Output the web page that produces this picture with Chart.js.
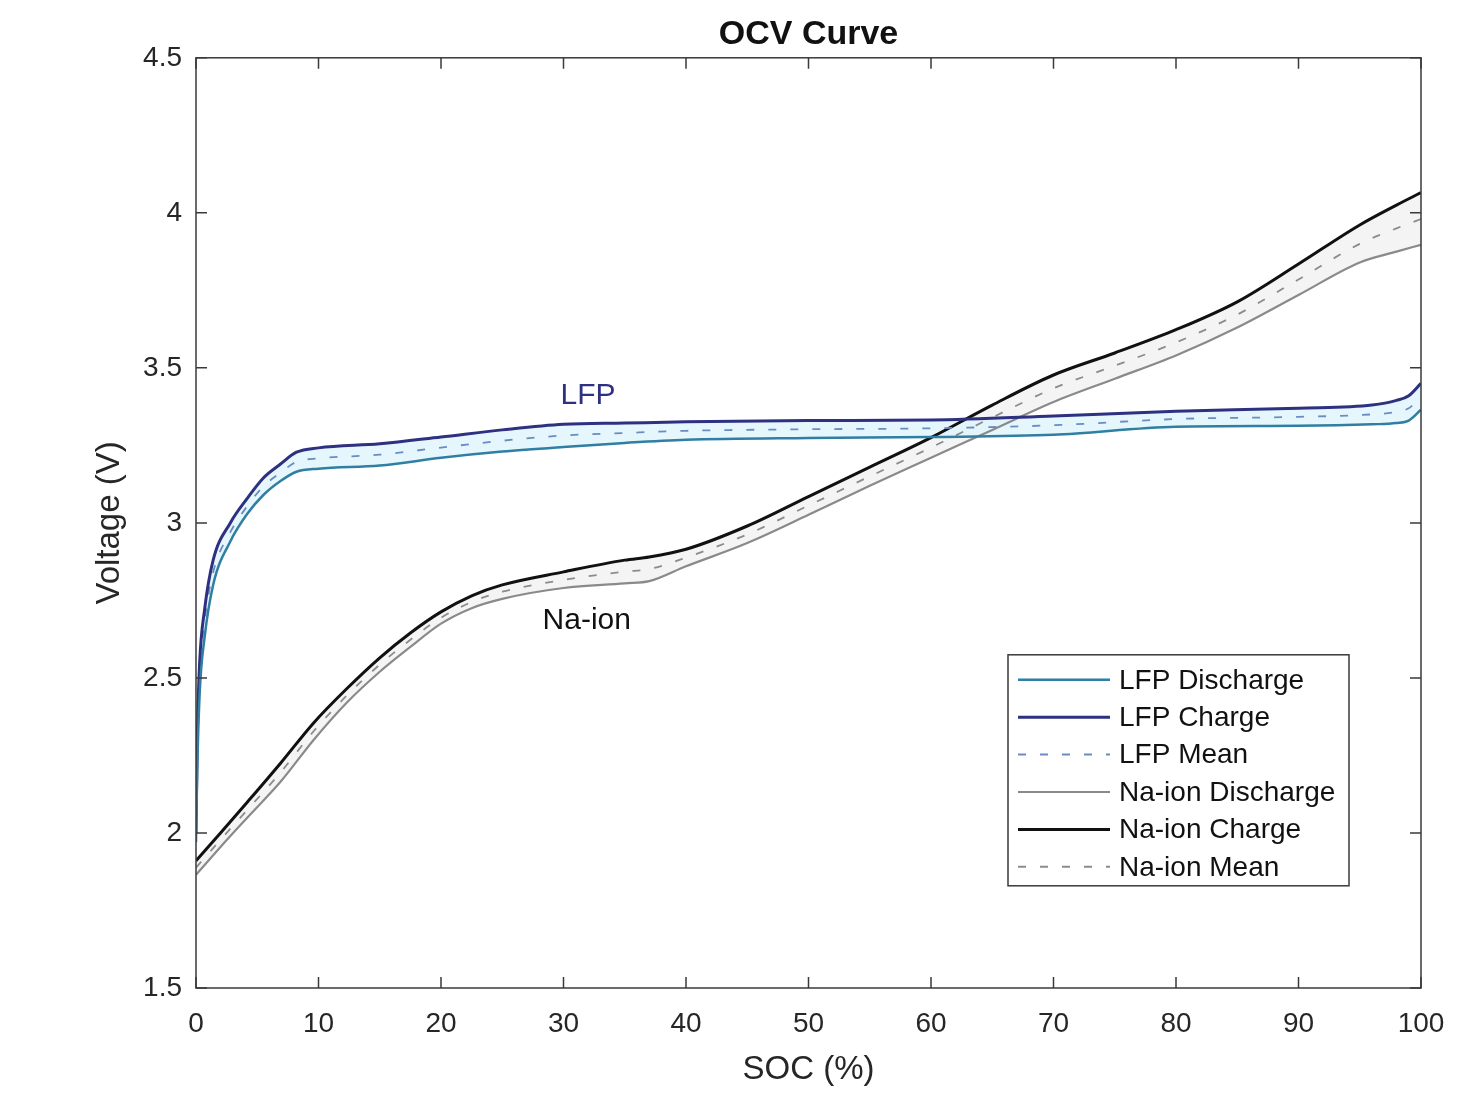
<!DOCTYPE html>
<html lang="en">
<head>
  <meta charset="UTF-8">
  <title>OCV Curve</title>
  <style>
    body {
      margin: 0;
      padding: 0;
      background: #fff;
    }
    canvas {
      display: block;
    }
  </style>
</head>
<body>
  <canvas id="ocvChart" width="1478" height="1094"></canvas>

  <script src="https://cdn.jsdelivr.net/npm/chart.js"></script>
  <script>
    // SOC sample points (%)
    const lfpSoc = [0, 0.1, 0.3, 0.7, 1.4, 2.8, 4.2, 5.5, 6.9, 8.2, 10, 15, 20, 25, 30, 35, 40, 50, 60, 70, 80, 90, 96, 98, 99, 100];
    const naSoc = [0, 2, 4.2, 6.9, 9.6, 12.3, 15, 17.5, 20, 22.5, 25, 30, 35, 37, 40, 45, 50, 55, 60, 65, 70, 75, 80, 85, 90, 95, 98, 100];

    // Voltages (V)
    const lfpDischarge = [1.97, 2.2, 2.45, 2.63, 2.8, 2.94, 3.03, 3.09, 3.135, 3.165, 3.175, 3.185, 3.21, 3.23, 3.245, 3.258, 3.268, 3.274, 3.277, 3.284, 3.31, 3.313, 3.318, 3.322, 3.33, 3.365];
    const lfpCharge = [2.0, 2.3, 2.55, 2.72, 2.88, 3.0, 3.08, 3.145, 3.19, 3.228, 3.242, 3.255, 3.277, 3.3, 3.318, 3.322, 3.326, 3.33, 3.332, 3.345, 3.36, 3.37, 3.38, 3.395, 3.41, 3.45];
    const lfpMean = [1.99, 2.25, 2.5, 2.68, 2.84, 2.97, 3.055, 3.118, 3.162, 3.197, 3.208, 3.22, 3.243, 3.265, 3.282, 3.29, 3.297, 3.302, 3.305, 3.315, 3.335, 3.342, 3.35, 3.358, 3.37, 3.405];

    const naDischarge = [1.865, 1.955, 2.05, 2.165, 2.3, 2.42, 2.52, 2.6, 2.675, 2.725, 2.755, 2.79, 2.805, 2.812, 2.86, 2.935, 3.026, 3.12, 3.21, 3.3, 3.39, 3.465, 3.54, 3.63, 3.735, 3.84, 3.875, 3.897];
    const naCharge = [1.91, 2.0, 2.1, 2.225, 2.355, 2.465, 2.565, 2.645, 2.713, 2.765, 2.8, 2.842, 2.88, 2.89, 2.915, 2.99, 3.085, 3.18, 3.275, 3.38, 3.477, 3.548, 3.623, 3.713, 3.835, 3.961, 4.025, 4.065];
    const naMean = [1.888, 1.978, 2.075, 2.195, 2.328, 2.443, 2.543, 2.623, 2.694, 2.745, 2.778, 2.816, 2.843, 2.851, 2.888, 2.963, 3.056, 3.15, 3.243, 3.34, 3.434, 3.507, 3.582, 3.672, 3.785, 3.9, 3.95, 3.98];

    const xTicks = [0, 10, 20, 30, 40, 50, 60, 70, 80, 90, 100];
    const yTicks = [1.5, 2, 2.5, 3, 3.5, 4, 4.5];

    const FONT = '"Liberation Sans", Arial, sans-serif';

    const toPoints = (xs, ys) => xs.map((x, i) => ({ x: x, y: ys[i] }));

    // Box around the plot with inward tick marks on all four sides
    const frame = {
      id: 'frame',
      afterDraw(chart) {
        const { ctx, chartArea: a, scales } = chart;
        ctx.save();
        ctx.strokeStyle = '#3a3a3a';
        ctx.lineWidth = 1.5;
        ctx.strokeRect(a.left, a.top, a.right - a.left, a.bottom - a.top);
        const len = 11;
        ctx.beginPath();
        xTicks.forEach(v => {
          const px = scales.x.getPixelForValue(v);
          ctx.moveTo(px, a.bottom); ctx.lineTo(px, a.bottom - len);
          ctx.moveTo(px, a.top); ctx.lineTo(px, a.top + len);
        });
        yTicks.forEach(v => {
          const py = scales.y.getPixelForValue(v);
          ctx.moveTo(a.left, py); ctx.lineTo(a.left + len, py);
          ctx.moveTo(a.right, py); ctx.lineTo(a.right - len, py);
        });
        ctx.stroke();
        ctx.restore();
      }
    };

    // Text labels next to the curves
    const curveLabels = {
      id: 'curveLabels',
      afterDatasetsDraw(chart) {
        const { ctx, scales } = chart;
        ctx.save();
        ctx.font = '30px ' + FONT;
        ctx.textAlign = 'center';
        ctx.textBaseline = 'middle';
        ctx.fillStyle = '#2e3080';
        ctx.fillText('LFP', scales.x.getPixelForValue(32), scales.y.getPixelForValue(3.41));
        ctx.fillStyle = '#111';
        ctx.fillText('Na-ion', scales.x.getPixelForValue(31.9), scales.y.getPixelForValue(2.684));
        ctx.restore();
      }
    };

    // MATLAB-style legend box inside the plot
    const boxLegend = {
      id: 'boxLegend',
      afterDraw(chart) {
        const { ctx, chartArea: a } = chart;
        const left = a.right - 413, top = a.top + 597;
        const w = 341, h = 231, rowH = 37.4;
        ctx.save();
        ctx.fillStyle = '#fff';
        ctx.fillRect(left, top, w, h);
        ctx.strokeStyle = '#3a3a3a';
        ctx.lineWidth = 1.5;
        ctx.strokeRect(left, top, w, h);
        ctx.font = '28px ' + FONT;
        ctx.textBaseline = 'middle';
        chart.data.datasets.forEach((ds, i) => {
          const y = top + 25 + i * rowH;
          ctx.beginPath();
          ctx.strokeStyle = ds.borderColor;
          ctx.lineWidth = Math.max(ds.borderWidth, 2);
          ctx.setLineDash(ds.borderDash || []);
          ctx.moveTo(left + 10, y);
          ctx.lineTo(left + 102, y);
          ctx.stroke();
          ctx.setLineDash([]);
          ctx.fillStyle = '#111';
          ctx.fillText(ds.label, left + 111, y + 1);
        });
        ctx.restore();
      }
    };

    const ctx = document.getElementById('ocvChart').getContext('2d');
    new Chart(ctx, {
      type: 'line',
      data: {
        datasets: [
          {
            label: 'LFP Discharge',
            data: toPoints(lfpSoc, lfpDischarge),
            borderColor: '#2f7fa3',
            borderWidth: 2.5
          },
          {
            label: 'LFP Charge',
            data: toPoints(lfpSoc, lfpCharge),
            borderColor: '#2e3080',
            borderWidth: 3,
            fill: { target: 0 },
            backgroundColor: 'rgba(226, 246, 252, 0.9)'
          },
          {
            label: 'LFP Mean',
            data: toPoints(lfpSoc, lfpMean),
            borderColor: '#6a8cc0',
            borderWidth: 1.8,
            borderDash: [8, 14]
          },
          {
            label: 'Na-ion Discharge',
            data: toPoints(naSoc, naDischarge),
            borderColor: '#8a8a8a',
            borderWidth: 2.2
          },
          {
            label: 'Na-ion Charge',
            data: toPoints(naSoc, naCharge),
            borderColor: '#111111',
            borderWidth: 3,
            fill: { target: 3 },
            backgroundColor: 'rgba(242, 242, 242, 0.85)'
          },
          {
            label: 'Na-ion Mean',
            data: toPoints(naSoc, naMean),
            borderColor: '#8c8c8c',
            borderWidth: 1.8,
            borderDash: [8, 14]
          }
        ]
      },
      options: {
        responsive: false,
        animation: false,
        layout: { padding: { left: 0, right: 57, top: 0, bottom: 0 } },
        elements: {
          point: { radius: 0 },
          line: { cubicInterpolationMode: 'monotone', fill: false }
        },
        plugins: {
          legend: { display: false },
          tooltip: { enabled: false },
          filler: { drawTime: 'beforeDatasetsDraw' },
          title: {
            display: true,
            fullSize: false,
            text: 'OCV Curve',
            color: '#111',
            font: { family: FONT, size: 34, weight: 'bold' },
            padding: { top: 14, bottom: 3 }
          }
        },
        scales: {
          x: {
            type: 'linear',
            min: 0,
            max: 100,
            grid: { display: false },
            border: { display: false },
            ticks: {
              stepSize: 10,
              padding: 11,
              color: '#262626',
              font: { family: FONT, size: 28 }
            },
            title: {
              display: true,
              text: 'SOC (%)',
              color: '#262626',
              font: { family: FONT, size: 33 },
              padding: { top: 0, bottom: 4 }
            },
            afterFit(scale) { scale.height = 106; }
          },
          y: {
            type: 'linear',
            min: 1.5,
            max: 4.5,
            grid: { display: false },
            border: { display: false },
            ticks: {
              stepSize: 0.5,
              padding: 6,
              color: '#262626',
              font: { family: FONT, size: 28 },
              callback: v => String(v)
            },
            title: {
              display: true,
              text: 'Voltage (V)',
              color: '#262626',
              font: { family: FONT, size: 33 },
              padding: { top: 90, bottom: 0 }
            },
            afterFit(scale) { scale.width = 196; }
          }
        }
      },
      plugins: [curveLabels, frame, boxLegend]
    });
  </script>
</body>
</html>
